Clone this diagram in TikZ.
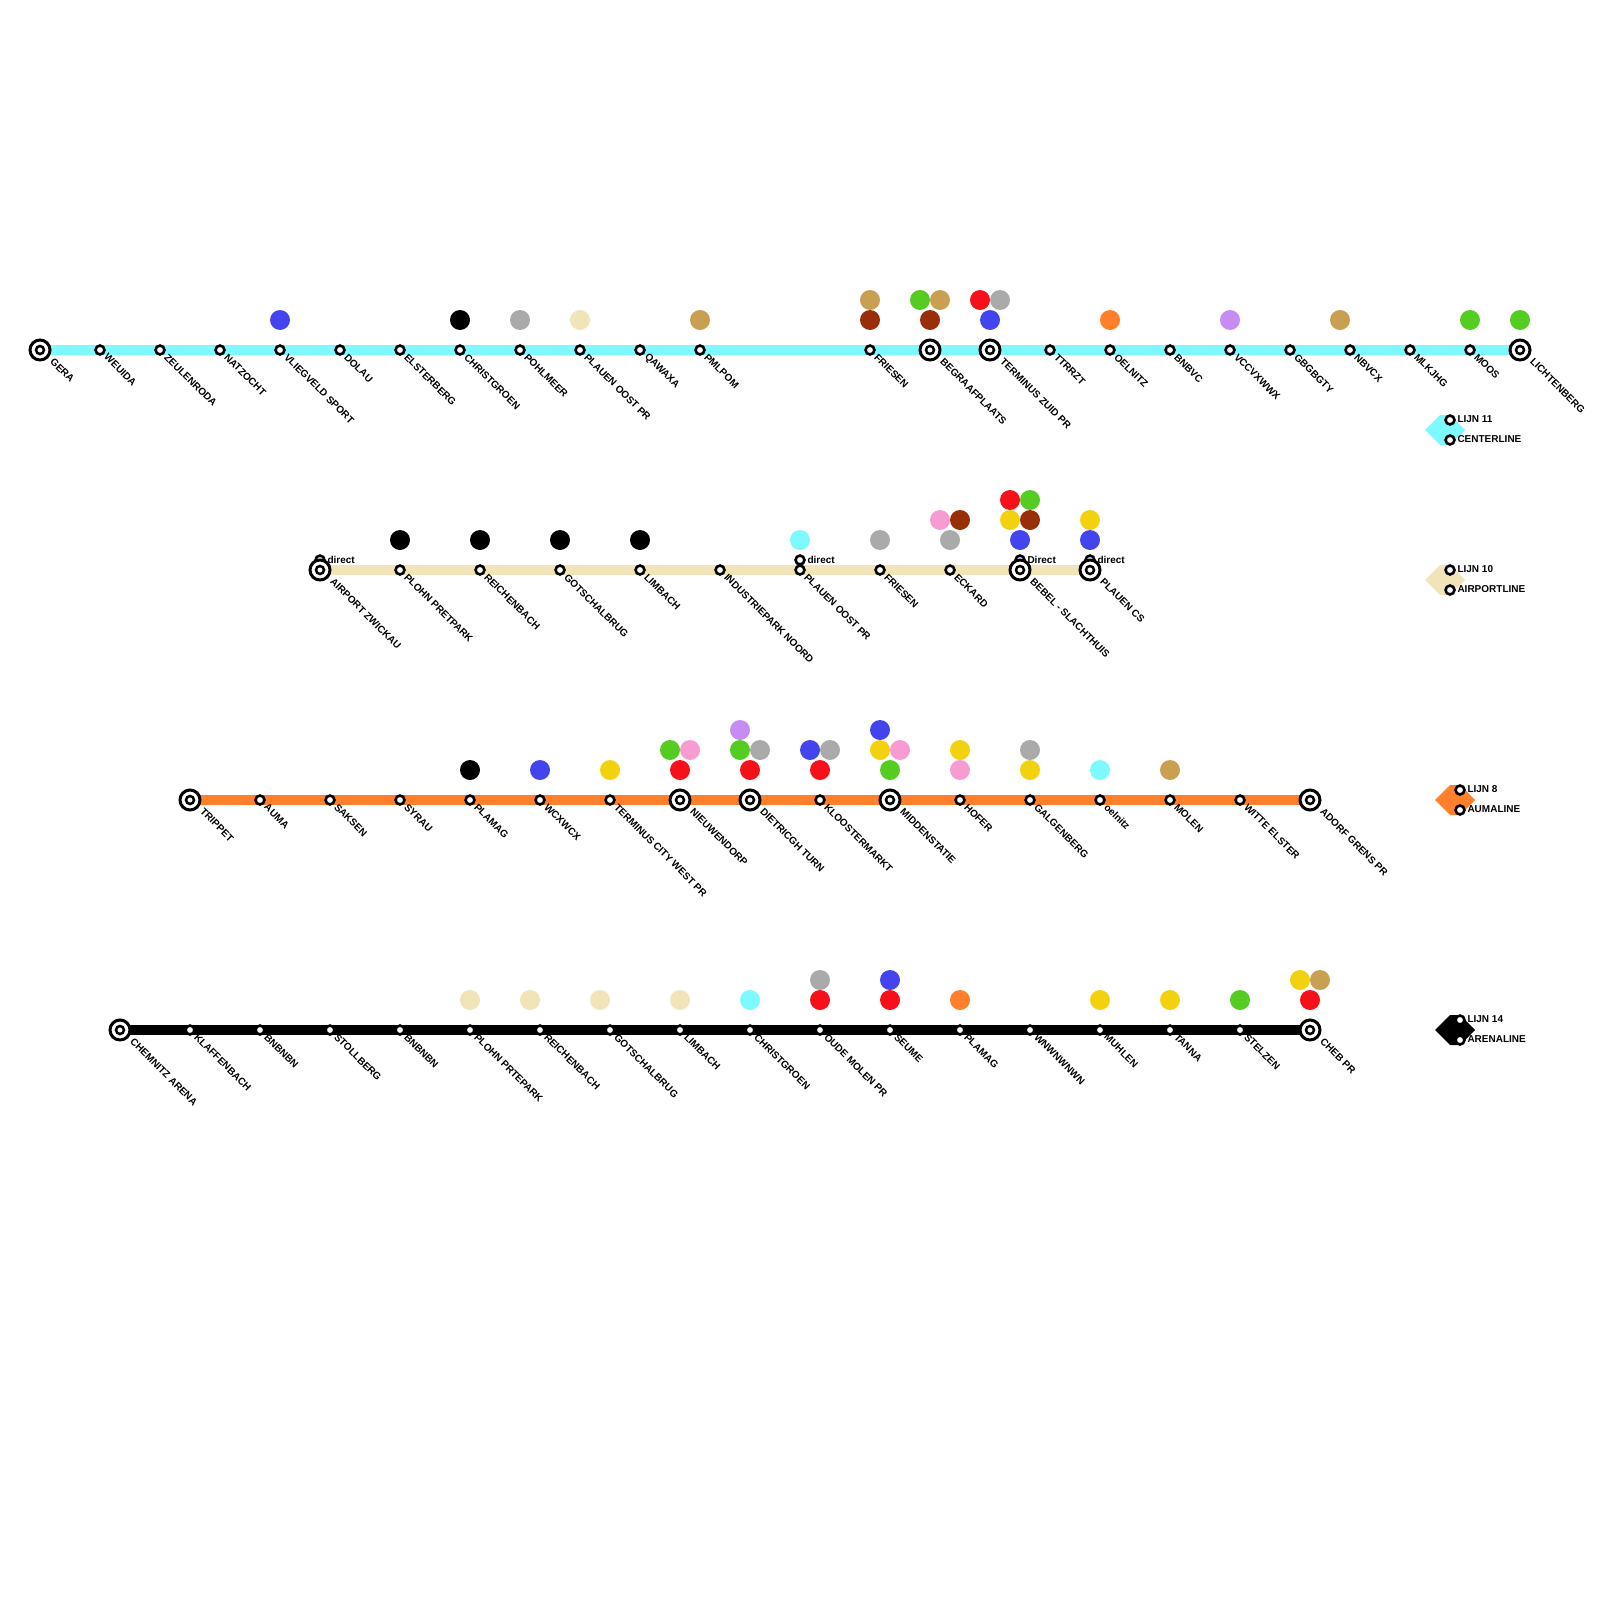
\documentclass[tikz,border=0pt]{standalone}
\usepackage{fontspec}
\setmainfont{Liberation Sans}
\usetikzlibrary{positioning,backgrounds}
\definecolor{cyanline}{HTML}{7DF9FF}
\definecolor{beigeline}{HTML}{F0E4B8}
\definecolor{orangeline}{HTML}{FF7F2A}
\definecolor{xblue}{HTML}{4444EE}
\definecolor{xgray}{HTML}{AAAAAA}
\definecolor{xred}{HTML}{F5101A}
\definecolor{xgreen}{HTML}{55CC22}
\definecolor{xyellow}{HTML}{F2D20F}
\definecolor{xbrown}{HTML}{992E0A}
\definecolor{xpink}{HTML}{F79CD3}
\definecolor{xtan}{HTML}{C9A052}
\definecolor{xpurple}{HTML}{C78CF2}
\tikzset{
  stoplab/.style={font=\fontsize{10}{12}\selectfont\bfseries, xshift=2pt, yshift=2.5pt, rotate=-45, anchor=west, inner sep=0pt, outer sep=0pt},
  termlab/.style={font=\fontsize{10}{12}\selectfont\bfseries, xshift=4pt, yshift=2pt, rotate=-45, anchor=west, inner sep=0pt, outer sep=0pt},
  sidelab/.style={font=\fontsize{10}{12}\selectfont\bfseries, yshift=0.5pt, inner sep=0pt, outer sep=0pt},
  stopdot/.style={circle, draw=black, line width=2.6pt, fill=white, inner sep=0pt, minimum size=8.9pt},
  termstop/.style={circle, draw=black, line width=3pt, fill=white, inner sep=0pt, minimum size=20pt,
                   path picture={\draw[line width=2.5pt] (path picture bounding box.center) circle (4pt);}},
  xfer/.style={circle, inner sep=0pt, outer sep=0pt, minimum size=20pt},
  linebar/.style={line width=10pt}}

\begin{document}
\begin{tikzpicture}[x=1pt, y=-1pt, label distance=4pt]
  \useasboundingbox (0,0) rectangle (1600,1600);
  % centerline
  \node[termstop, label={[termlab]-45:GERA}] (gera) at (40,350) {};
  \node[stopdot, label={[stoplab]-45:WEUIDA}] (weuida) at (100,350) {};
  \node[stopdot, label={[stoplab]-45:ZEULENRODA}] (zeulenroda) at (160,350) {};
  \node[stopdot, label={[stoplab]-45:NATZOCHT}] (natzocht) at (220,350) {};
  \node[stopdot, label={[stoplab]-45:VLIEGVELD SPORT}] (vliegveld) at (280,350) {};
  \node[stopdot, label={[stoplab]-45:DOLAU}] (dolau) at (340,350) {};
  \node[stopdot, label={[stoplab]-45:ELSTERBERG}] (elsterberg) at (400,350) {};
  \node[stopdot, label={[stoplab]-45:CHRISTGROEN}] (christgroen) at (460,350) {};
  \node[stopdot, label={[stoplab]-45:POHLMEER}] (pohlmeer) at (520,350) {};
  \node[stopdot, label={[stoplab]-45:PLAUEN OOST PR}] (plauenoost) at (580,350) {};
  \node[stopdot, label={[stoplab]-45:QAWAXA}] (qawaxa) at (640,350) {};
  \node[stopdot, label={[stoplab]-45:PMLPOM}] (pmlpom) at (700,350) {};
  \node[stopdot, label={[stoplab]-45:FRIESEN}] (friesen) at (870,350) {};
  \node[termstop, label={[termlab]-45:BEGRAAFPLAATS}] (begraaf) at (930,350) {};
  \node[termstop, label={[termlab]-45:TERMINUS ZUID PR}] (termzuid) at (990,350) {};
  \node[stopdot, label={[stoplab]-45:TTRRZT}] (ttrrzt) at (1050,350) {};
  \node[stopdot, label={[stoplab]-45:OELNITZ}] (oelnitz) at (1110,350) {};
  \node[stopdot, label={[stoplab]-45:BNBVC}] (bnbvc) at (1170,350) {};
  \node[stopdot, label={[stoplab]-45:VCCVXWWX}] (vccv) at (1230,350) {};
  \node[stopdot, label={[stoplab]-45:GBGBGTY}] (gbgb) at (1290,350) {};
  \node[stopdot, label={[stoplab]-45:NBVCX}] (nbvcx) at (1350,350) {};
  \node[stopdot, label={[stoplab]-45:MLKJHG}] (mlkjhg) at (1410,350) {};
  \node[stopdot, label={[stoplab]-45:MOOS}] (moos) at (1470,350) {};
  \node[termstop, label={[termlab]-45:LICHTENBERG}] (lichtenberg) at (1520,350) {};
  \begin{scope}[on background layer]
    \draw[linebar, color=cyanline] (gera.center) -- (lichtenberg.center);
  \end{scope}
  \node[xfer, fill=xblue] (xa1) at (280,320) {};
  \node[xfer, fill=black] (xa2) at (460,320) {};
  \node[xfer, fill=xgray] (xa3) at (520,320) {};
  \node[xfer, fill=beigeline] (xa4) at (580,320) {};
  \node[xfer, fill=xtan] (xa5) at (700,320) {};
  \node[xfer, fill=xbrown] (xa6) at (870,320) {};
  \node[xfer, fill=xtan] (xa7) at (870,300) {};
  \node[xfer, fill=xbrown] (xa8) at (930,320) {};
  \node[xfer, fill=xgreen] (xa9) at (920,300) {};
  \node[xfer, fill=xtan] (xa10) at (940,300) {};
  \node[xfer, fill=xblue] (xa11) at (990,320) {};
  \node[xfer, fill=xred] (xa12) at (980,300) {};
  \node[xfer, fill=xgray] (xa13) at (1000,300) {};
  \node[xfer, fill=orangeline] (xa14) at (1110,320) {};
  \node[xfer, fill=xpurple] (xa15) at (1230,320) {};
  \node[xfer, fill=xtan] (xa16) at (1340,320) {};
  \node[xfer, fill=xgreen] (xa17) at (1470,320) {};
  \node[xfer, fill=xgreen] (xa18) at (1520,320) {};
  % airportline
  \node[stopdot] (airportdir) at (320,560) {};
  \node[sidelab, right=1.75pt of airportdir] (airportdirlab) {direct};
  \node[termstop, label={[termlab]-45:AIRPORT ZWICKAU}] (airport) at (320,570) {};
  \node[stopdot, label={[stoplab]-45:PLOHN PRETPARK}] (plohn) at (400,570) {};
  \node[stopdot, label={[stoplab]-45:REICHENBACH}] (reichenbach) at (480,570) {};
  \node[stopdot, label={[stoplab]-45:GOTSCHALBRUG}] (gotschal) at (560,570) {};
  \node[stopdot, label={[stoplab]-45:LIMBACH}] (limbach) at (640,570) {};
  \node[stopdot, label={[stoplab]-45:INDUSTRIEPARK NOORD}] (industrie) at (720,570) {};
  \node[stopdot] (plauenoostdir) at (800,560) {};
  \node[sidelab, right=1.75pt of plauenoostdir] (plauenoostlab) {direct};
  \node[stopdot, label={[stoplab]-45:PLAUEN OOST PR}] (plauenoostb) at (800,570) {};
  \node[stopdot, label={[stoplab]-45:FRIESEN}] (friesenb) at (880,570) {};
  \node[stopdot, label={[stoplab]-45:ECKARD}] (eckard) at (950,570) {};
  \node[stopdot] (bebeldir) at (1020,560) {};
  \node[sidelab, right=1.75pt of bebeldir] (bebeldirlab) {Direct};
  \node[termstop, label={[termlab]-45:BEBEL - SLACHTHUIS}] (bebel) at (1020,570) {};
  \node[stopdot] (plauencsdir) at (1090,560) {};
  \node[sidelab, right=1.75pt of plauencsdir] (plauencsdirlab) {direct};
  \node[termstop, label={[termlab]-45:PLAUEN CS}] (plauencs) at (1090,570) {};
  \begin{scope}[on background layer]
    \draw[linebar, color=beigeline] (airport.center) -- (plauencs.center);
  \end{scope}
  \node[xfer, fill=black] (xb1) at (400,540) {};
  \node[xfer, fill=black] (xb2) at (480,540) {};
  \node[xfer, fill=black] (xb3) at (560,540) {};
  \node[xfer, fill=black] (xb4) at (640,540) {};
  \node[xfer, fill=cyanline] (xb5) at (800,540) {};
  \node[xfer, fill=xgray] (xb6) at (880,540) {};
  \node[xfer, fill=xgray] (xb7) at (950,540) {};
  \node[xfer, fill=xpink] (xb8) at (940,520) {};
  \node[xfer, fill=xbrown] (xb9) at (960,520) {};
  \node[xfer, fill=xblue] (xb10) at (1020,540) {};
  \node[xfer, fill=xyellow] (xb11) at (1010,520) {};
  \node[xfer, fill=xbrown] (xb12) at (1030,520) {};
  \node[xfer, fill=xred] (xb13) at (1010,500) {};
  \node[xfer, fill=xgreen] (xb14) at (1030,500) {};
  \node[xfer, fill=xblue] (xb15) at (1090,540) {};
  \node[xfer, fill=xyellow] (xb16) at (1090,520) {};
  % aumaline
  \node[termstop, label={[termlab]-45:TRIPPET}] (trippet) at (190,800) {};
  \node[stopdot, label={[stoplab]-45:AUMA}] (auma) at (260,800) {};
  \node[stopdot, label={[stoplab]-45:SAKSEN}] (saksen) at (330,800) {};
  \node[stopdot, label={[stoplab]-45:SYRAU}] (syrau) at (400,800) {};
  \node[stopdot, label={[stoplab]-45:PLAMAG}] (plamag) at (470,800) {};
  \node[stopdot, label={[stoplab]-45:WCXWCX}] (wcxwcx) at (540,800) {};
  \node[stopdot, label={[stoplab]-45:TERMINUS CITY WEST PR}] (termcity) at (610,800) {};
  \node[termstop, label={[termlab]-45:NIEUWENDORP}] (nieuwendorp) at (680,800) {};
  \node[termstop, label={[termlab]-45:DIETRICGH TURN}] (dietricgh) at (750,800) {};
  \node[stopdot, label={[stoplab]-45:KLOOSTERMARKT}] (klooster) at (820,800) {};
  \node[termstop, label={[termlab]-45:MIDDENSTATIE}] (midden) at (890,800) {};
  \node[stopdot, label={[stoplab]-45:HOFER}] (hofer) at (960,800) {};
  \node[stopdot, label={[stoplab]-45:GALGENBERG}] (galgenberg) at (1030,800) {};
  \node[stopdot, label={[stoplab]-45:oelnitz}] (oelnitzb) at (1100,800) {};
  \node[stopdot, label={[stoplab]-45:MOLEN}] (molen) at (1170,800) {};
  \node[stopdot, label={[stoplab]-45:WITTE ELSTER}] (witte) at (1240,800) {};
  \node[termstop, label={[termlab]-45:ADORF GRENS PR}] (adorf) at (1310,800) {};
  \begin{scope}[on background layer]
    \draw[linebar, color=orangeline] (trippet.center) -- (adorf.center);
  \end{scope}
  \node[xfer, fill=black] (xc1) at (470,770) {};
  \node[xfer, fill=xblue] (xc2) at (540,770) {};
  \node[xfer, fill=xyellow] (xc3) at (610,770) {};
  \node[xfer, fill=xred] (xc4) at (680,770) {};
  \node[xfer, fill=xgreen] (xc5) at (670,750) {};
  \node[xfer, fill=xpink] (xc6) at (690,750) {};
  \node[xfer, fill=xred] (xc7) at (750,770) {};
  \node[xfer, fill=xgreen] (xc8) at (740,750) {};
  \node[xfer, fill=xgray] (xc9) at (760,750) {};
  \node[xfer, fill=xpurple] (xc10) at (740,730) {};
  \node[xfer, fill=xred] (xc11) at (820,770) {};
  \node[xfer, fill=xblue] (xc12) at (810,750) {};
  \node[xfer, fill=xgray] (xc13) at (830,750) {};
  \node[xfer, fill=xgreen] (xc14) at (890,770) {};
  \node[xfer, fill=xyellow] (xc15) at (880,750) {};
  \node[xfer, fill=xpink] (xc16) at (900,750) {};
  \node[xfer, fill=xblue] (xc17) at (880,730) {};
  \node[xfer, fill=xpink] (xc18) at (960,770) {};
  \node[xfer, fill=xyellow] (xc19) at (960,750) {};
  \node[xfer, fill=xyellow] (xc20) at (1030,770) {};
  \node[xfer, fill=xgray] (xc21) at (1030,750) {};
  \node[xfer, fill=cyanline] (xc22) at (1100,770) {};
  \node[xfer, fill=xtan] (xc23) at (1170,770) {};
  % arenaline
  \node[termstop, label={[termlab]-45:CHEMNITZ ARENA}] (chemnitz) at (120,1030) {};
  \node[stopdot, label={[stoplab]-45:KLAFFENBACH}] (klaffenbach) at (190,1030) {};
  \node[stopdot, label={[stoplab]-45:BNBNBN}] (bnbnbn) at (260,1030) {};
  \node[stopdot, label={[stoplab]-45:STOLLBERG}] (stollberg) at (330,1030) {};
  \node[stopdot, label={[stoplab]-45:BNBNBN}] (bnbnbnb) at (400,1030) {};
  \node[stopdot, label={[stoplab]-45:PLOHN PRTEPARK}] (plohnb) at (470,1030) {};
  \node[stopdot, label={[stoplab]-45:REICHENBACH}] (reichenbachb) at (540,1030) {};
  \node[stopdot, label={[stoplab]-45:GOTSCHALBRUG}] (gotschalb) at (610,1030) {};
  \node[stopdot, label={[stoplab]-45:LIMBACH}] (limbachb) at (680,1030) {};
  \node[stopdot, label={[stoplab]-45:CHRISTGROEN}] (christgroenb) at (750,1030) {};
  \node[stopdot, label={[stoplab]-45:OUDE MOLEN PR}] (oudemolen) at (820,1030) {};
  \node[stopdot, label={[stoplab]-45:SEUME}] (seume) at (890,1030) {};
  \node[stopdot, label={[stoplab]-45:PLAMAG}] (plamagb) at (960,1030) {};
  \node[stopdot, label={[stoplab]-45:WNWNWNWN}] (wnwn) at (1030,1030) {};
  \node[stopdot, label={[stoplab]-45:MUHLEN}] (muhlen) at (1100,1030) {};
  \node[stopdot, label={[stoplab]-45:TANNA}] (tanna) at (1170,1030) {};
  \node[stopdot, label={[stoplab]-45:STELZEN}] (stelzen) at (1240,1030) {};
  \node[termstop, label={[termlab]-45:CHEB PR}] (cheb) at (1310,1030) {};
  \begin{scope}[on background layer]
    \draw[linebar, color=black] (chemnitz.center) -- (cheb.center);
  \end{scope}
  \node[xfer, fill=beigeline] (xd1) at (470,1000) {};
  \node[xfer, fill=beigeline] (xd2) at (530,1000) {};
  \node[xfer, fill=beigeline] (xd3) at (600,1000) {};
  \node[xfer, fill=beigeline] (xd4) at (680,1000) {};
  \node[xfer, fill=cyanline] (xd5) at (750,1000) {};
  \node[xfer, fill=xred] (xd6) at (820,1000) {};
  \node[xfer, fill=xgray] (xd7) at (820,980) {};
  \node[xfer, fill=xred] (xd8) at (890,1000) {};
  \node[xfer, fill=xblue] (xd9) at (890,980) {};
  \node[xfer, fill=orangeline] (xd10) at (960,1000) {};
  \node[xfer, fill=xyellow] (xd11) at (1100,1000) {};
  \node[xfer, fill=xyellow] (xd12) at (1170,1000) {};
  \node[xfer, fill=xgreen] (xd13) at (1240,1000) {};
  \node[xfer, fill=xred] (xd14) at (1310,1000) {};
  \node[xfer, fill=xyellow] (xd15) at (1300,980) {};
  \node[xfer, fill=xtan] (xd16) at (1320,980) {};
  % legend
  \fill[cyanline] (1425,430) -- (1440,415) -- (1450,415) -- (1465,430) -- (1450,445) -- (1440,445) -- cycle;
  \node[stopdot] (leg11a) at (1450,420) {};
  \node[stopdot] (leg11b) at (1450,440) {};
  \node[sidelab, right=1.75pt of leg11a] (leg11alab) {LIJN 11};
  \node[sidelab, right=1.75pt of leg11b] (leg11blab) {CENTERLINE};
  \fill[beigeline] (1425,580) -- (1440,565) -- (1450,565) -- (1465,580) -- (1450,595) -- (1440,595) -- cycle;
  \node[stopdot] (leg10a) at (1450,570) {};
  \node[stopdot] (leg10b) at (1450,590) {};
  \node[sidelab, right=1.75pt of leg10a] (leg10alab) {LIJN 10};
  \node[sidelab, right=1.75pt of leg10b] (leg10blab) {AIRPORTLINE};
  \fill[orangeline] (1435,800) -- (1450,785) -- (1460,785) -- (1475,800) -- (1460,815) -- (1450,815) -- cycle;
  \node[stopdot] (leg8a) at (1460,790) {};
  \node[stopdot] (leg8b) at (1460,810) {};
  \node[sidelab, right=1.75pt of leg8a] (leg8alab) {LIJN 8};
  \node[sidelab, right=1.75pt of leg8b] (leg8blab) {AUMALINE};
  \fill[black] (1435,1030) -- (1450,1015) -- (1460,1015) -- (1475,1030) -- (1460,1045) -- (1450,1045) -- cycle;
  \node[stopdot] (leg14a) at (1460,1020) {};
  \node[stopdot] (leg14b) at (1460,1040) {};
  \node[sidelab, right=1.75pt of leg14a] (leg14alab) {LIJN 14};
  \node[sidelab, right=1.75pt of leg14b] (leg14blab) {ARENALINE};
\end{tikzpicture}
\end{document}
